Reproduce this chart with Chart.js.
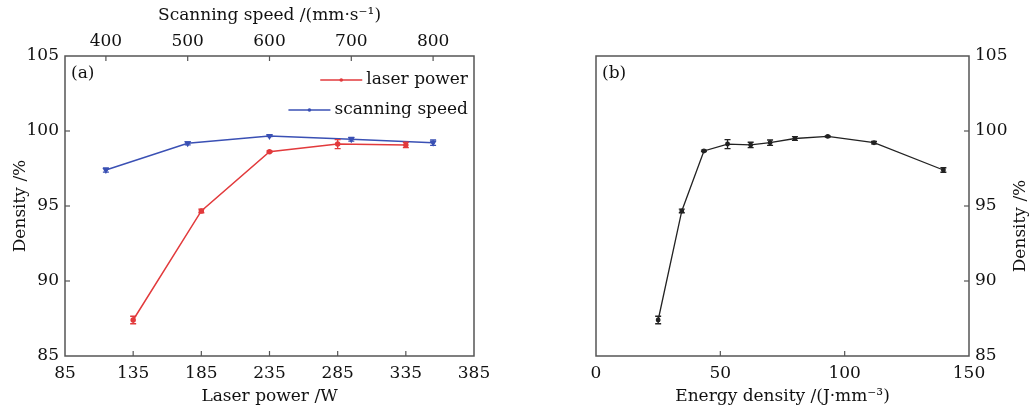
<!DOCTYPE html>
<html lang="en">
<head>
  <meta charset="UTF-8">
  <title>Density vs laser power / scanning speed / energy density</title>
  <script src="https://cdn.jsdelivr.net/npm/chart.js"></script>
  <style>
    body {
      margin: 0;
      background: #fff;
    }
    #left {
      position: absolute;
      left: 0;
      top: 0;
    }
    #right {
      position: absolute;
      left: 540px;
      top: 0;
    }
  </style>
</head>
<body>
  <canvas id="left" width="520" height="407"></canvas>
  <canvas id="right" width="489" height="407"></canvas>

  <script>
    // data
    const laserPower = [135, 185, 235, 285, 335];
    const laserDensity = [87.4, 94.67, 98.62, 99.13, 99.07];
    const laserErr = [0.25, 0.12, 0.05, 0.3, 0.18];

    const scanSpeed = [400, 500, 600, 700, 800];
    const scanDensity = [97.4, 99.18, 99.66, 99.45, 99.22];
    const scanErr = [0.14, 0.1, 0.04, 0.12, 0.18];

    const energyDensity = [25.0, 34.5, 43.4, 52.9, 62.2, 70.0, 80.0, 93.2, 111.8, 139.7];
    const energyDens = [87.4, 94.67, 98.67, 99.13, 99.07, 99.22, 99.5, 99.64, 99.22, 97.4];
    const energyErr = [0.25, 0.12, 0.05, 0.3, 0.18, 0.18, 0.12, 0.04, 0.08, 0.15];

    // tick labels
    const densityTicks = [85, 90, 95, 100, 105];
    const powerTicks = [85, 135, 185, 235, 285, 335, 385];
    const speedTicks = [400, 500, 600, 700, 800];
    const energyTicks = [0, 50, 100, 150];

    const FONT = 'DejaVu Serif';
    const font = { family: FONT, size: 17 };
    const AXIS = '#555';

    function pts(xs, ys) {
      return xs.map((x, i) => ({ x: x, y: ys[i] }));
    }

    function setTicks(list) {
      return scale => { scale.ticks = list.map(v => ({ value: v })); };
    }

    function fixWidth(w) {
      return scale => { scale.width = w; };
    }

    function fixHeight(h) {
      return scale => { scale.height = h; };
    }

    // box around plot + inward ticks
    const framePlugin = {
      id: 'frame',
      beforeDatasetsDraw(chart) {
        const ctx = chart.ctx;
        const a = chart.chartArea;
        ctx.save();
        ctx.strokeStyle = AXIS;
        ctx.lineWidth = 1.5;
        ctx.strokeRect(a.left, a.top, a.right - a.left, a.bottom - a.top);
        ctx.lineWidth = 1.2;
        Object.values(chart.scales).forEach(s => {
          s.ticks.forEach(t => {
            const p = s.getPixelForValue(t.value);
            ctx.beginPath();
            if (s.isHorizontal()) {
              if (p <= a.left + 1 || p >= a.right - 1) return;
              if (s.position === 'top') {
                ctx.moveTo(p, a.top); ctx.lineTo(p, a.top + 5);
              } else {
                ctx.moveTo(p, a.bottom); ctx.lineTo(p, a.bottom - 5);
              }
            } else {
              if (p <= a.top + 1 || p >= a.bottom - 1) return;
              if (s.position === 'right') {
                ctx.moveTo(a.right, p); ctx.lineTo(a.right - 5, p);
              } else {
                ctx.moveTo(a.left, p); ctx.lineTo(a.left + 5, p);
              }
            }
            ctx.stroke();
          });
        });
        ctx.restore();
      }
    };

    // vertical error bars from dataset.err
    const errorBarPlugin = {
      id: 'errorBars',
      afterDatasetsDraw(chart) {
        const ctx = chart.ctx;
        ctx.save();
        chart.data.datasets.forEach((ds, i) => {
          const meta = chart.getDatasetMeta(i);
          const ys = chart.scales[meta.yAxisID];
          ctx.strokeStyle = ds.borderColor;
          ctx.lineWidth = 1.3;
          meta.data.forEach((el, j) => {
            const v = ds.data[j].y;
            const e = ds.err[j];
            const top = ys.getPixelForValue(v + e);
            const bot = ys.getPixelForValue(v - e);
            ctx.beginPath();
            ctx.moveTo(el.x, top); ctx.lineTo(el.x, bot);
            ctx.moveTo(el.x - 3, top); ctx.lineTo(el.x + 3, top);
            ctx.moveTo(el.x - 3, bot); ctx.lineTo(el.x + 3, bot);
            ctx.stroke();
          });
        });
        ctx.restore();
      }
    };

    // panel letter, custom legend, rotated titles
    const notesPlugin = {
      id: 'notes',
      afterDraw(chart, args, opts) {
        const ctx = chart.ctx;
        const a = chart.chartArea;
        ctx.save();
        ctx.font = '17px ' + FONT;
        ctx.fillStyle = '#111';
        ctx.textBaseline = 'middle';
        ctx.textAlign = 'left';
        ctx.fillText(opts.letter, a.left + 6, a.top + 18);

        if (opts.legend) {
          chart.data.datasets.forEach((ds, i) => {
            const y = a.top + 24 + i * 30;
            const right = a.right - 6;
            ctx.textAlign = 'right';
            ctx.fillStyle = '#111';
            ctx.fillText(ds.label, right, y);
            const w = ctx.measureText(ds.label).width;
            const x1 = right - w - 4;
            ctx.strokeStyle = ds.borderColor;
            ctx.lineWidth = 1.5;
            ctx.beginPath();
            ctx.moveTo(x1 - 42, y); ctx.lineTo(x1, y);
            ctx.stroke();
            ctx.fillStyle = ds.borderColor;
            ctx.beginPath();
            ctx.arc(x1 - 21, y, 1.8, 0, Math.PI * 2);
            ctx.fill();
          });
        }

        if (opts.rightTitle) {
          ctx.fillStyle = '#111';
          ctx.textAlign = 'center';
          ctx.translate(chart.width - 8, (a.top + a.bottom) / 2 + 20);
          ctx.rotate(-Math.PI / 2);
          ctx.fillText(opts.rightTitle, 0, 0);
        }
        ctx.restore();
      }
    };

    Chart.defaults.font.family = FONT;
    Chart.defaults.color = '#111';

    new Chart(document.getElementById('left'), {
      type: 'line',
      data: {
        datasets: [{
          label: 'laser power',
          data: pts(laserPower, laserDensity),
          err: laserErr,
          xAxisID: 'x',
          yAxisID: 'y',
          borderColor: '#e23a3c',
          backgroundColor: '#e23a3c',
          borderWidth: 1.5,
          pointRadius: 2,
          pointHoverRadius: 2
        }, {
          label: 'scanning speed',
          data: pts(scanSpeed, scanDensity),
          err: scanErr,
          xAxisID: 'x2',
          yAxisID: 'y',
          borderColor: '#3a50b4',
          backgroundColor: '#3a50b4',
          borderWidth: 1.5,
          pointStyle: 'triangle',
          rotation: 180,
          pointRadius: 2.5,
          pointHoverRadius: 2.5
        }]
      },
      options: {
        responsive: false,
        animation: false,
        layout: { padding: { left: 0, right: 46, top: 0, bottom: 0 } },
        plugins: {
          legend: { display: false },
          tooltip: { enabled: false },
          notes: { letter: '(a)', legend: true }
        },
        scales: {
          x: {
            type: 'linear',
            position: 'bottom',
            min: 85, max: 385,
            afterBuildTicks: setTicks(powerTicks),
            afterFit: fixHeight(51),
            grid: { display: false, drawTicks: false },
            border: { display: false },
            ticks: { font: font, padding: 7, maxRotation: 0 },
            title: { display: true, text: 'Laser power /W', font: font, padding: { top: 0, bottom: 0 } }
          },
          x2: {
            type: 'linear',
            position: 'top',
            min: 350, max: 850,
            afterBuildTicks: setTicks(speedTicks),
            afterFit: fixHeight(56),
            grid: { display: false, drawTicks: false },
            border: { display: false },
            ticks: { font: font, padding: 4, maxRotation: 0 },
            title: { display: true, text: 'Scanning speed /(mm\u00b7s\u207b\u00b9)', font: font, padding: { top: 5, bottom: 0 } }
          },
          y: {
            type: 'linear',
            position: 'left',
            min: 85, max: 105,
            afterBuildTicks: setTicks(densityTicks),
            afterFit: fixWidth(65),
            grid: { display: false, drawTicks: false },
            border: { display: false },
            ticks: { font: font, padding: 6 },
            title: { display: true, text: 'Density /%', font: font, padding: { top: 10, bottom: 0 } }
          }
        }
      },
      plugins: [framePlugin, errorBarPlugin, notesPlugin]
    });

    new Chart(document.getElementById('right'), {
      type: 'line',
      data: {
        datasets: [{
          label: 'energy density',
          data: pts(energyDensity, energyDens),
          err: energyErr,
          xAxisID: 'x',
          yAxisID: 'y',
          borderColor: '#222',
          backgroundColor: '#222',
          borderWidth: 1.3,
          pointRadius: 1.8,
          pointHoverRadius: 1.8
        }]
      },
      options: {
        responsive: false,
        animation: false,
        layout: { padding: { left: 56, right: 0, top: 56, bottom: 0 } },
        plugins: {
          legend: { display: false },
          tooltip: { enabled: false },
          notes: { letter: '(b)', rightTitle: 'Density /%' }
        },
        scales: {
          x: {
            type: 'linear',
            position: 'bottom',
            min: 0, max: 150,
            afterBuildTicks: setTicks(energyTicks),
            afterFit: fixHeight(51),
            grid: { display: false, drawTicks: false },
            border: { display: false },
            ticks: { font: font, padding: 7, maxRotation: 0 },
            title: { display: true, text: 'Energy density /(J\u00b7mm\u207b\u00b3)', font: font, padding: { top: 0, bottom: 0 } }
          },
          y: {
            type: 'linear',
            position: 'right',
            min: 85, max: 105,
            afterBuildTicks: setTicks(densityTicks),
            afterFit: fixWidth(60),
            grid: { display: false, drawTicks: false },
            border: { display: false },
            ticks: { font: font, padding: 6 },
            title: { display: false }
          }
        }
      },
      plugins: [framePlugin, errorBarPlugin, notesPlugin]
    });
  </script>
</body>
</html>
